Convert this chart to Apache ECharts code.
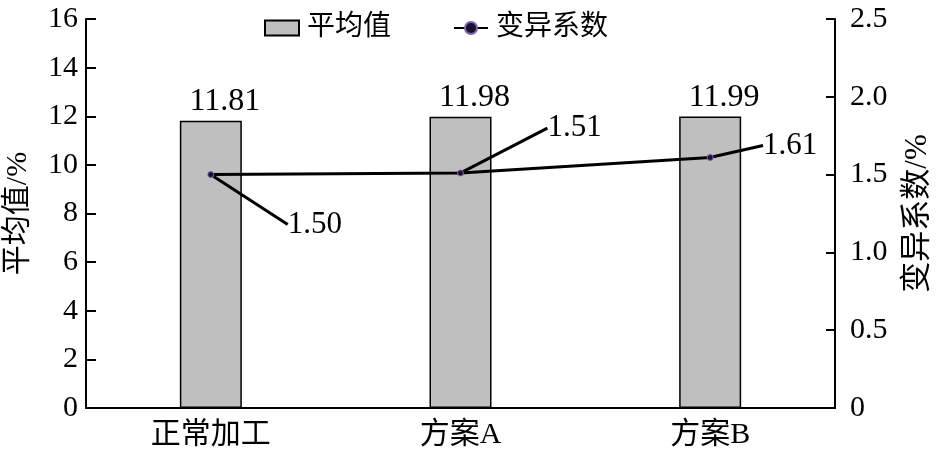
<!DOCTYPE html>
<html>
<head>
<meta charset="utf-8">
<script src="https://cdn.jsdelivr.net/npm/echarts@6/dist/echarts.min.js"></script>
<style>
  html, body { margin: 0; padding: 0; background: #fff; }
  #chart { width: 938px; height: 460px; }
</style>
</head>
<body>
<div id="chart"></div>
<script>
  let categories = ['正常加工', '方案A', '方案B'];
  let meanValues = [11.81, 11.98, 11.99];
  let cvValues = [1.50, 1.51, 1.61];
  // where each 变异系数 label sits relative to its point
  let cvLabelShift = [[104, 50], [114, -45], [80, -12]];

  let font = '"Liberation Serif", "Noto Sans CJK SC", serif';

  let myChart = echarts.init(document.getElementById('chart'));
  let option = {
    textStyle: { fontFamily: font, color: '#000' },
    legend: {
      top: 9,
      left: 259,
      itemGap: 62,
      itemWidth: 34,
      itemHeight: 15,
      textStyle: { fontSize: 28, color: '#000', fontFamily: font, padding: [0, 0, 0, 3] },
      data: [
        { name: '平均值', icon: 'rect' },
        { name: '变异系数' }
      ]
    },
    grid: { left: 86, right: 103, top: 19, bottom: 52, outerBoundsMode: 'none' },
    xAxis: {
      type: 'category',
      data: categories,
      axisLine: { lineStyle: { color: '#000', width: 2 } },
      axisTick: { show: false },
      axisLabel: { fontSize: 30, color: '#000', margin: 12, fontFamily: font }
    },
    yAxis: [
      {
        type: 'value',
        min: 0, max: 16, interval: 2,
        name: '平均值/%',
        nameLocation: 'middle',
        nameRotate: 90,
        nameGap: 53,
        nameTextStyle: { fontSize: 30, color: '#000', fontFamily: font },
        axisLine: { show: true, lineStyle: { color: '#000', width: 2 } },
        axisTick: { show: true, inside: true, length: 10, lineStyle: { color: '#000', width: 2 } },
        axisLabel: { fontSize: 30, color: '#000', margin: 8, fontFamily: font },
        splitLine: { show: false }
      },
      {
        type: 'value',
        min: 0, max: 2.5, interval: 0.5,
        name: '变异系数/%',
        nameLocation: 'middle',
        nameRotate: 90,
        nameGap: 67,
        nameTextStyle: { fontSize: 31, color: '#000', fontFamily: font },
        axisLine: { show: true, lineStyle: { color: '#000', width: 2 } },
        axisTick: { show: true, inside: true, length: 9, lineStyle: { color: '#000', width: 2 } },
        axisLabel: {
          fontSize: 30, color: '#000', margin: 15, fontFamily: font,
          formatter: function (v) { return v === 0 ? '0' : v.toFixed(1); }
        },
        splitLine: { show: false }
      }
    ],
    series: [
      {
        name: '平均值',
        type: 'bar',
        barWidth: 62,
        data: meanValues,
        itemStyle: { color: '#c0bfc0', borderColor: '#000', borderWidth: 1.5 },
        label: {
          show: true, position: 'top', distance: 3, offset: [14, 0],
          fontSize: 32, color: '#000', fontFamily: font,
          formatter: function (p) { return p.value.toFixed(2); }
        }
      },
      {
        name: '变异系数',
        type: 'line',
        yAxisIndex: 1,
        data: cvValues,
        symbol: 'circle',
        symbolSize: 6,
        itemStyle: { color: '#1a1030', borderColor: '#7a66a8', borderWidth: 1 },
        lineStyle: { color: '#000', width: 3 },
        label: {
          show: true, position: 'inside',
          fontSize: 31, color: '#000', fontFamily: font,
          formatter: function (p) { return p.value.toFixed(2); }
        },
        labelLine: { show: true, lineStyle: { color: '#000', width: 3 } },
        labelLayout: function (params) {
          let s = cvLabelShift[params.dataIndex];
          return { dx: s[0], dy: s[1] };
        }
      }
    ]
  };
  myChart.setOption(option);
  window.addEventListener('resize', () => { myChart.resize(); });
</script>
</body>
</html>
